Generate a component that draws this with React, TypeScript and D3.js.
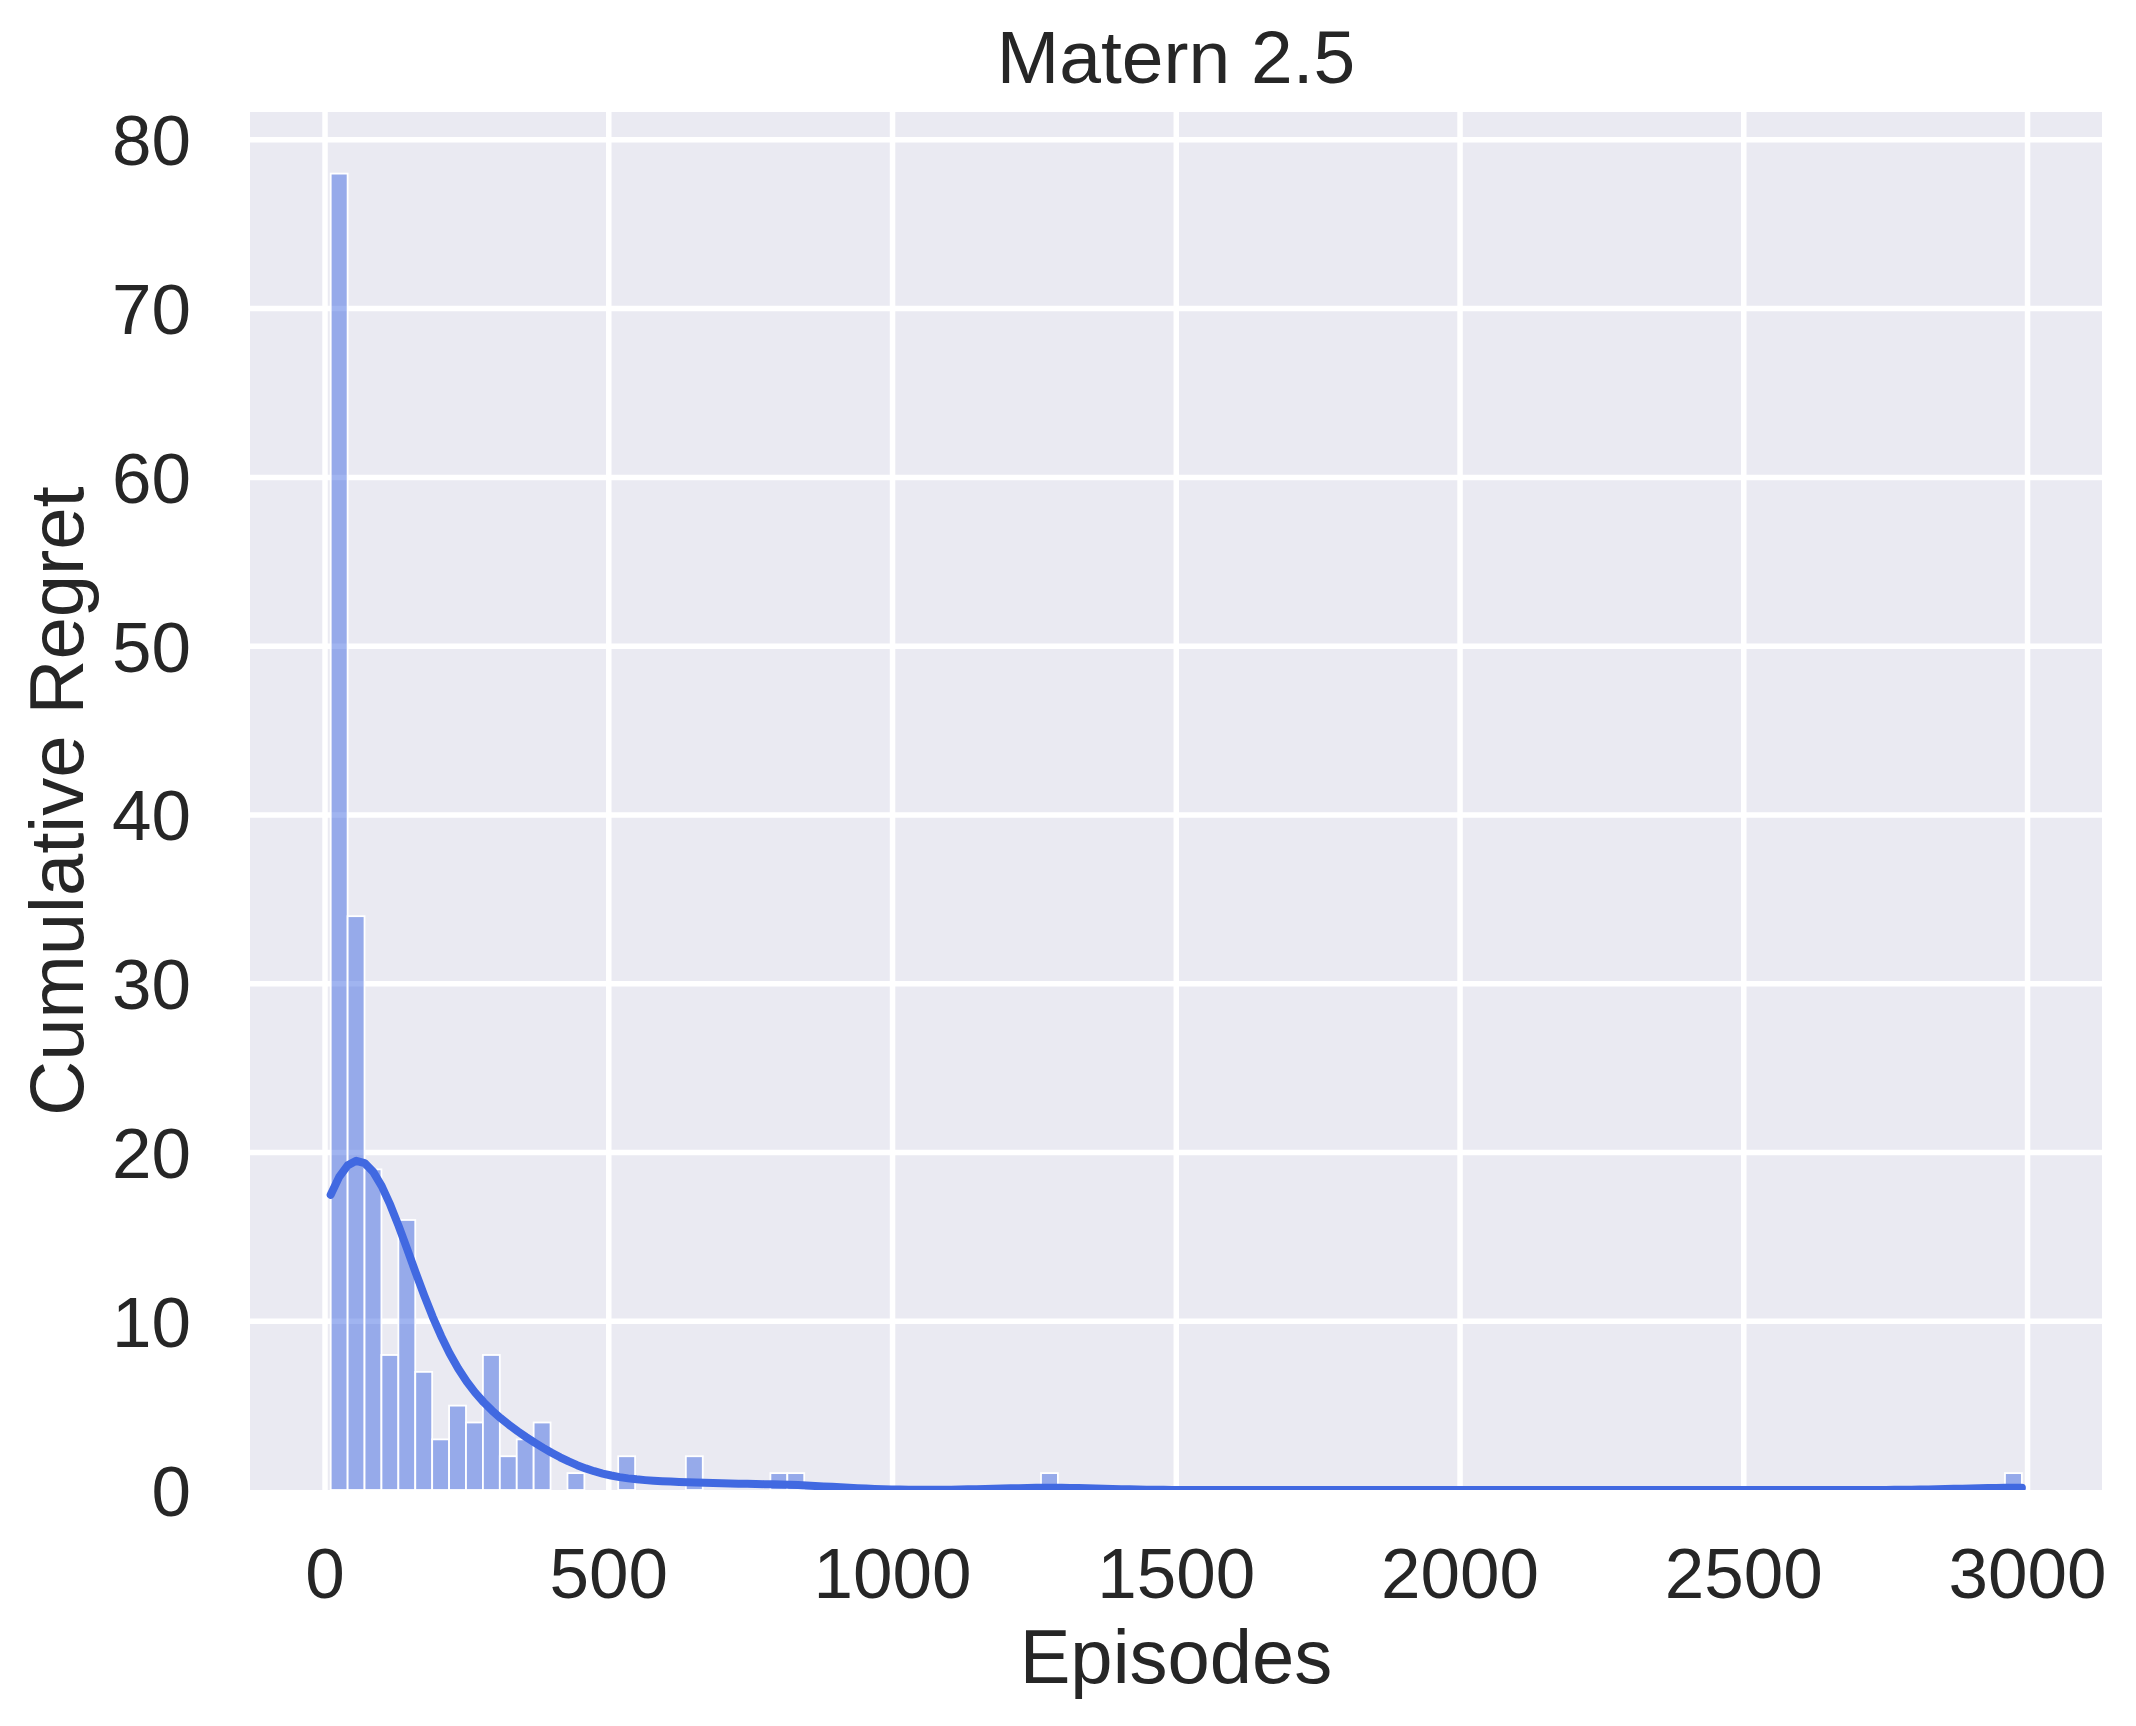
import React from 'react';
import * as d3 from 'd3';

const title = 'Matern 2.5';
const xLabel = 'Episodes';
const yLabel = 'Cumulative Regret';
const xTicks = [0, 500, 1000, 1500, 2000, 2500, 3000];
const yTicks = [0, 10, 20, 30, 40, 50, 60, 70, 80];

// histogram: 100 bins spanning the data range
const binStart = 10;
const binEnd = 2990;
const counts = [
  78, 34, 19, 8, 16, 7, 3, 5, 4, 8,
  2, 3, 4, 0, 1, 0, 0, 2, 0, 0,
  0, 2, 0, 0, 0, 0, 1, 1, 0, 0,
  0, 0, 0, 0, 0, 0, 0, 0, 0, 0,
  0, 0, 1, 0, 0, 0, 0, 0, 0, 0,
  0, 0, 0, 0, 0, 0, 0, 0, 0, 0,
  0, 0, 0, 0, 0, 0, 0, 0, 0, 0,
  0, 0, 0, 0, 0, 0, 0, 0, 0, 0,
  0, 0, 0, 0, 0, 0, 0, 0, 0, 0,
  0, 0, 0, 0, 0, 0, 0, 0, 0, 1,
];

const FONT = '"Liberation Sans", Arial, sans-serif';
const TEXT = '#262626';
const BLUE = '#4169E1';

export default function App() {
  const W = 2136, H = 1726;
  const left = 250, right = 2102, top = 112, bottom = 1490;
  const x = d3.scaleLinear().domain([-132.2, 3131.2]).range([left, right]);
  const y = d3.scaleLinear().domain([0, 81.65]).range([bottom, top]);

  const nb = counts.length;
  const bw = (binEnd - binStart) / nb;
  const bins = counts.map((c, i) => ({ x0: binStart + i * bw, x1: binStart + (i + 1) * bw, c }));

  // gaussian KDE (Scott's rule) over the histogram samples, scaled to counts
  const samples: number[] = [];
  bins.forEach(b => { for (let k = 0; k < b.c; k++) samples.push((b.x0 + b.x1) / 2); });
  const n = samples.length;
  const sd = d3.deviation(samples) as number;
  const h = sd * Math.pow(n, -1 / 5);
  const grid = d3.range(200).map(i => binStart + (binEnd - binStart) * i / 199);
  const kde = grid.map(g => {
    let s = 0;
    for (const v of samples) { const z = (g - v) / h; s += Math.exp(-0.5 * z * z); }
    const dens = s / (n * h * Math.sqrt(2 * Math.PI));
    return [g, dens * n * bw] as [number, number];
  });
  const line = d3.line<[number, number]>().x(d => x(d[0])).y(d => y(d[1]));

  return (
    <div style={{ position: 'absolute', left: 0, top: 0 }}>
      <svg width={W} height={H} style={{ display: 'block', background: '#fff' }}>
        <defs>
          <clipPath id="plotclip">
            <rect x={left} y={top} width={right - left} height={bottom - top} />
          </clipPath>
        </defs>
        <rect x={left} y={top} width={right - left} height={bottom - top} fill="#EAEAF2" />
        <g clipPath="url(#plotclip)">
          {xTicks.map(t => (
            <line key={'gx' + t} x1={x(t)} x2={x(t)} y1={top} y2={bottom} stroke="#fff" strokeWidth={5.5} />
          ))}
          {yTicks.filter(t => t > 0).map(t => (
            <line key={'gy' + t} x1={left} x2={right} y1={y(t)} y2={y(t)} stroke="#fff" strokeWidth={5.5} />
          ))}
          {bins.filter(b => b.c > 0).map((b, i) => (
            <rect key={'b' + i} x={x(b.x0)} y={y(b.c)} width={x(b.x1) - x(b.x0)} height={y(0) - y(b.c)}
              fill={BLUE} fillOpacity={0.5} stroke="#fff" strokeWidth={1.8} />
          ))}
          <path d={line(kde) || ''} fill="none" stroke={BLUE} strokeWidth={8} strokeLinecap="round" strokeLinejoin="round" />
        </g>
        {yTicks.map(t => (
          <text key={'ty' + t} x={191} y={y(t)} dy="0.36em" textAnchor="end" fontFamily={FONT} fontSize={71} fill={TEXT}>{t}</text>
        ))}
        {xTicks.map(t => (
          <text key={'tx' + t} x={x(t)} y={1598} textAnchor="middle" fontFamily={FONT} fontSize={71} fill={TEXT}>{t}</text>
        ))}
        <text x={(left + right) / 2} y={1683} textAnchor="middle" fontFamily={FONT} fontSize={76} fill={TEXT}>{xLabel}</text>
        <text transform={`translate(83, ${(top + bottom) / 2}) rotate(-90)`} textAnchor="middle" fontFamily={FONT} fontSize={76} fill={TEXT}>{yLabel}</text>
        <text x={(left + right) / 2} y={83} textAnchor="middle" fontFamily={FONT} fontSize={75} fill={TEXT}>{title}</text>
      </svg>
    </div>
  );
}
